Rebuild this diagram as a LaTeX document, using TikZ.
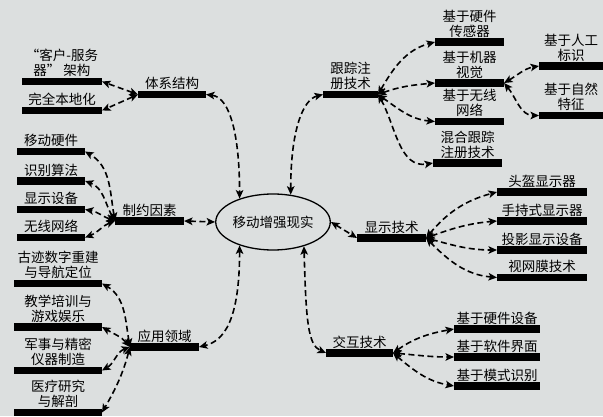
\documentclass[tikz,border=0pt]{standalone}
\usepackage{fontspec}
\newfontfamily\cjk{Noto Sans CJK SC}
\usetikzlibrary{arrows.meta,shapes.geometric}
\definecolor{bgc}{HTML}{DCDFDF}
\begin{document}
\begin{tikzpicture}[x=1pt,y=1pt,
 bar/.style={fill=black,inner sep=0pt,minimum height=7.5pt,outer sep=0pt},
 lbl/.style={font=\cjk\fontsize{13.5}{15}\selectfont,align=center,inner sep=0.5pt,anchor=south},
 conn/.style={line width=1.6pt,dash pattern=on 6pt off 3.5pt,{Stealth[length=8.5pt,width=7.5pt,inset=2pt]}-{Stealth[length=8.5pt,width=7.5pt,inset=2pt]}},
]
\fill[bgc] (0,0) rectangle (603,416);
\useasboundingbox (0,0) rectangle (603,416);

% centre
\node[draw,ellipse,line width=1.3pt,minimum width=100pt,minimum height=56pt,inner sep=0pt,font=\cjk\fontsize{13.5}{15}\selectfont] (el) at (273,194) {移动增强现实};

% bars
\node[bar,minimum width=80pt] (ks) at (62,334.5) {};
\node[bar,minimum width=80pt] (bd) at (62,305.5) {};
\node[bar,minimum width=68pt] (tx) at (172,321.5) {};
\node[bar,minimum width=55pt] (gz) at (350.5,321.5) {};
\node[bar,minimum width=69pt] (yj) at (469.5,374) {};
\node[bar,minimum width=69pt] (jq) at (469.5,333) {};
\node[bar,minimum width=69pt] (wx) at (469.5,294.5) {};
\node[bar,minimum width=69pt] (hh) at (467.5,253) {};
\node[bar,minimum width=64pt] (rg) at (571,350) {};
\node[bar,minimum width=64pt] (zr) at (571,300.5) {};
\node[bar,minimum width=68pt] (yd) at (51,264.5) {};
\node[bar,minimum width=68pt] (sb) at (51,235) {};
\node[bar,minimum width=68pt] (xs) at (51,206.5) {};
\node[bar,minimum width=68pt] (wl) at (51,178.5) {};
\node[bar,minimum width=69pt] (zy) at (149.5,195) {};
\node[bar,minimum width=88pt] (gj) at (58,132.5) {};
\node[bar,minimum width=88pt] (jx) at (58,89) {};
\node[bar,minimum width=88pt] (js) at (58,45.5) {};
\node[bar,minimum width=88pt] (yl) at (58,3.5) {};
\node[bar,minimum width=69pt] (yy) at (164.5,69) {};
\node[bar,minimum width=69pt] (xj) at (391.5,178) {};
\node[bar,minimum width=90pt] (tk) at (542,224) {};
\node[bar,minimum width=90pt] (sc) at (542,195) {};
\node[bar,minimum width=90pt] (ty) at (542,166) {};
\node[bar,minimum width=90pt] (sw) at (542,138.5) {};
\node[bar,minimum width=67pt] (jh) at (359.5,63) {};
\node[bar,minimum width=86pt] (hs) at (497,87) {};
\node[bar,minimum width=86pt] (rj) at (497,59) {};
\node[bar,minimum width=86pt] (ms) at (497,30) {};

% labels
\node[lbl] (ksl) at (ks.north) {“客户-服务\\器” 架构};
\node[lbl] (bdl) at (bd.north) {完全本地化};
\node[lbl] (txl) at (tx.north) {体系结构};
\node[lbl] (gzl) at (gz.north) {跟踪注\\册技术};
\node[lbl] (yjl) at (yj.north) {基于硬件\\传感器};
\node[lbl] (jql) at (jq.north) {基于机器\\视觉};
\node[lbl] (wxl) at (wx.north) {基于无线\\网络};
\node[lbl] (hhl) at (hh.north) {混合跟踪\\注册技术};
\node[lbl] (rgl) at (rg.north) {基于人工\\标识};
\node[lbl] (zrl) at (zr.north) {基于自然\\特征};
\node[lbl] (ydl) at (yd.north) {移动硬件};
\node[lbl] (sbl) at (sb.north) {识别算法};
\node[lbl] (xsl) at (xs.north) {显示设备};
\node[lbl] (wll) at (wl.north) {无线网络};
\node[lbl] (zyl) at (zy.north) {制约因素};
\node[lbl] (gjl) at (gj.north) {古迹数字重建\\与导航定位};
\node[lbl] (jxl) at (jx.north) {教学培训与\\游戏娱乐};
\node[lbl] (jsl) at (js.north) {军事与精密\\仪器制造};
\node[lbl] (yll) at (yl.north) {医疗研究\\与解剖};
\node[lbl] (yyl) at (yy.north) {应用领域};
\node[lbl] (xjl) at (xj.north) {显示技术};
\node[lbl] (tkl) at (tk.north) {头盔显示器};
\node[lbl] (scl) at (sc.north) {手持式显示器};
\node[lbl] (tyl) at (ty.north) {投影显示设备};
\node[lbl] (swl) at (sw.north) {视网膜技术};
\node[lbl] (jhl) at (jh.north) {交互技术};
\node[lbl] (hsl) at (hs.north) {基于硬件设备};
\node[lbl] (rjl) at (rj.north) {基于软件界面};
\node[lbl] (msl) at (ms.north) {基于模式识别};

% main connectors
\draw[conn] (tx.east) .. controls +(25,-3) and +(0,60) .. (el.145);
\draw[conn] (el.57) .. controls +(0,65) and +(-20,-5) .. (gz.west);
\draw[conn] (zy.east) -- (el.west);
\draw[conn] (el.east) -- (xj.west);
\draw[conn] (el.215) .. controls +(0,-75) and +(25,6) .. (yy.east);
\draw[conn] (el.-38) .. controls +(2,-75) and +(-18,8) .. (jh.west);

% 体系结构
\draw[conn] (tx.west) -- (ks.east);
\draw[conn] (tx.west) -- (bd.east);
% 跟踪注册
\draw[conn] (gz.east) to[out=60,in=195] (yj.west);
\draw[conn] (gz.east) to[out=20,in=185] (jq.west);
\draw[conn] (gz.east) to[out=-35,in=175] (wx.west);
\draw[conn] (gz.east) to[out=-60,in=190] (hh.west);
\draw[conn] (jq.east) to[out=30,in=190] (rg.west);
\draw[conn] (jq.east) to[out=-50,in=180] (zr.west);
% 制约因素
\draw[conn] (zy.west) to[out=100,in=-30] (yd.east);
\draw[conn] (zy.west) to[out=120,in=-20] (sb.east);
\draw[conn] (zy.west) to[out=160,in=-10] (xs.east);
\draw[conn] (zy.west) to[out=200,in=20] (wl.east);
% 应用领域
\draw[conn] (yy.west) to[out=100,in=-30] (gj.east);
\draw[conn] (yy.west) to[out=130,in=-30] (jx.east);
\draw[conn] (yy.west) to[out=200,in=30] (js.east);
\draw[conn] (yy.west) to[out=255,in=60] (yl.east);
% 显示技术
\draw[conn] (xj.east) to[out=50,in=195] (tk.west);
\draw[conn] (xj.east) to[out=20,in=185] (sc.west);
\draw[conn] (xj.east) to[out=-15,in=180] (ty.west);
\draw[conn] (xj.east) to[out=-45,in=175] (sw.west);
% 交互技术
\draw[conn] (jh.east) to[out=35,in=190] (hs.west);
\draw[conn] (jh.east) to[out=-5,in=180] (rj.west);
\draw[conn] (jh.east) to[out=-40,in=170] (ms.west);
\end{tikzpicture}
\end{document}
